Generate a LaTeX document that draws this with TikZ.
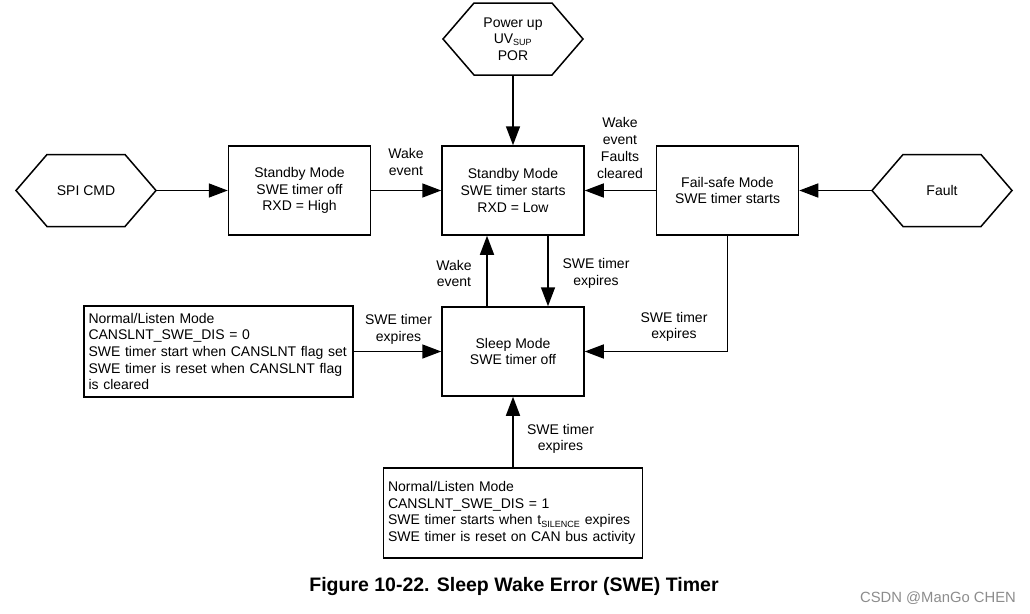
\documentclass[tikz,border=0pt]{standalone}
\usepackage{fontspec}
\setmainfont{Liberation Sans}
\usetikzlibrary{shapes.symbols,arrows.meta}
\begin{document}
\begin{tikzpicture}[x=1pt,y=-1pt,
  txt/.style={font=\fontsize{14}{16.7}\selectfont, align=center},
  hexa/.style={draw, line width=1.5pt, shape=signal, signal to=west and east,
    signal pointer angle=98.5, minimum width=140pt, minimum height=72pt, inner sep=0pt,
    font=\fontsize{14}{16.7}\selectfont, align=center},
  box/.style={draw, line width=1.5pt, minimum width=142pt, minimum height=89pt, inner sep=0pt,
    font=\fontsize{14}{16.7}\selectfont, align=center},
  lbox/.style={draw, line width=1.5pt, inner sep=4.5pt, align=left,
    font=\fontsize{14}{16.7}\selectfont},
  arr/.style={line width=1.6pt, -{Triangle[length=19pt,width=14pt]}},
  ln/.style={line width=1.6pt}]
\useasboundingbox (0,0) rectangle (1030,613);

\node[hexa] (pwr) at (513,39) {Power up\\UV\textsubscript{\fontsize{9}{9}\selectfont SUP}\\POR};
\node[hexa] (spi) at (86,190.5) {SPI CMD};
\node[hexa] (fault) at (942,190.5) {Fault};

\node[box] (sbl) at (299.5,190.5) {Standby Mode\\SWE timer off\\RXD = High};
\node[box] (sbc) at (513,190.5) {Standby Mode\\SWE timer starts\\RXD = Low};
\node[box] (fs) at (727.5,190.5) {Fail-safe Mode\\SWE timer starts};
\node[box] (sleep) at (513,351.5) {Sleep Mode\\SWE timer off};

\node[lbox, text width=260pt, minimum height=91pt] (nl) at (218.5,351.5)
  {Normal/Listen Mode\\CANSLNT\_SWE\_DIS = 0\\SWE timer start when CANSLNT flag set\\SWE timer is reset when CANSLNT flag\\is cleared};
\node[lbox, text width=250pt, minimum height=90pt] (nb) at (513,513)
  {Normal/Listen Mode\\CANSLNT\_SWE\_DIS = 1\\SWE timer starts when t\textsubscript{\fontsize{9}{9}\selectfont SILENCE} expires\\SWE timer is reset on CAN bus activity};

\draw[arr] (pwr.south) -- (sbc.north);
\draw[arr] (spi.east) -- (sbl.west);
\draw[arr] (sbl.east) -- (sbc.west);
\draw[arr] (fs.west) -- (sbc.east);
\draw[arr] (fault.west) -- (fs.east);
\draw[arr] ([xshift=-26pt]sleep.north) -- ([xshift=-26pt]sbc.south);
\draw[arr] ([xshift=35pt]sbc.south) -- ([xshift=35pt]sleep.north);
\draw[arr] (fs.south) |- (sleep.east);
\draw[arr] (nl.east) -- (sleep.west);
\draw[arr] (nb.north) -- (sleep.south);

\node[txt] (l1) at (406,162) {Wake\\event};
\node[txt] (l2) at (620,148) {Wake\\event\\Faults\\cleared};
\node[txt] (l3) at (454,273.5) {Wake\\event};
\node[txt] (l4) at (596,273.5) {SWE timer\\expires};
\node[txt] (l5) at (674,327) {SWE timer\\expires};
\node[txt] (l6) at (398.5,329.5) {SWE timer\\expires};
\node[txt] (l7) at (560.5,439) {SWE timer\\expires};

\node[font=\fontsize{19.5}{22}\selectfont\bfseries] (cap) at (514,586) {Figure 10-22. Sleep Wake Error (SWE) Timer};
\node[font=\fontsize{14.8}{17}\selectfont, text=black!45] (wm) at (938,598.5) {CSDN @ManGo CHEN};
\end{tikzpicture}
\end{document}
